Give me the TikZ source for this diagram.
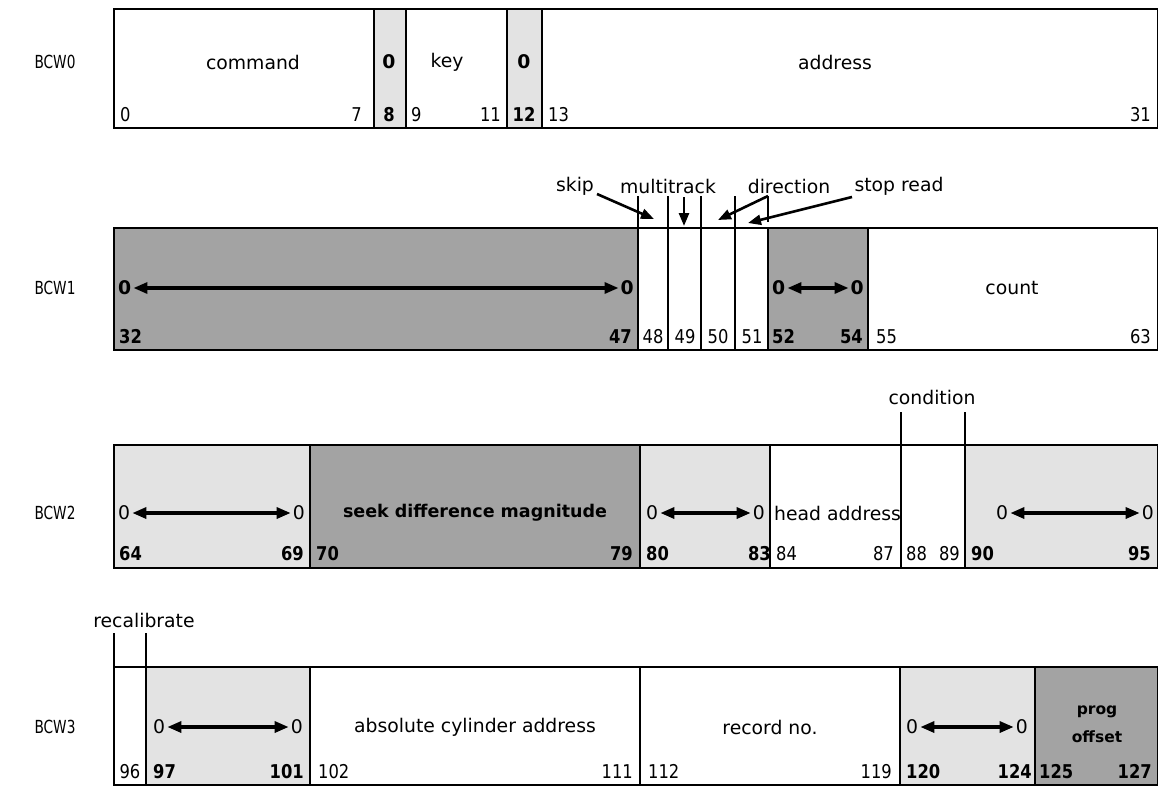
\documentclass[tikz,border=0pt]{standalone}
\usepackage{fontspec}
\setmainfont{DejaVu Sans}
\newfontfamily\bcwfont[FakeStretch=0.76]{DejaVu Sans}
\newfontfamily\numfont[FakeStretch=0.86]{DejaVu Sans}
\usetikzlibrary{arrows.meta}
\definecolor{darkcell}{gray}{0.64}
\definecolor{lightcell}{gray}{0.89}
\newcommand\bitcell[6]{%
  \pgfmathsetmacro\cellw{#3-#2}\pgfmathsetmacro\cellh{#5-#4}%
  \node[cellbox,#6,minimum width=\cellw pt,minimum height=\cellh pt,anchor=north west] (#1) at (#2,#4) {};}
\begin{document}
\begin{tikzpicture}[x=1pt,y=-1pt,
  cellbox/.style={draw=black,line width=1.8pt,inner sep=0pt,outer sep=0pt},
  dk/.style={fill=darkcell}, lt/.style={fill=lightcell}, wh/.style={fill=white},
  txt/.style={font=\fontsize{18.8}{21}\selectfont,inner sep=1pt},
  txtb/.style={font=\fontsize{18.8}{21}\selectfont\bfseries,inner sep=1pt},
  bcw/.style={font=\bcwfont\fontsize{18}{20}\selectfont,inner sep=1pt},
  num/.style={font=\numfont\fontsize{19}{21}\selectfont,inner sep=0pt},
  numb/.style={font=\numfont\fontsize{19}{21}\selectfont\bfseries,inner sep=0pt},
  nl/.style={num,anchor=base west}, nr/.style={num,anchor=base east}, nc/.style={num,anchor=base},
  nlb/.style={numb,anchor=base west}, nrb/.style={numb,anchor=base east}, ncb/.style={numb,anchor=base},
  dbl/.style={line width=3.2pt,{Triangle[length=14pt,width=11pt]}-{Triangle[length=14pt,width=11pt]},shorten <=1pt,shorten >=1pt},
  ptr/.style={line width=2.6pt,-{Triangle[length=13pt,width=10pt]}},
  tickline/.style={line width=1.8pt}]
\fill[white] (0,0) rectangle (1158,787);
\useasboundingbox (0,0) rectangle (1158,787);

% ---------- BCW0 ----------
\node[bcw] (bcw0) at (55,62) {BCW0};
\bitcell{c0}{114}{374}{9}{128}{wh}
\bitcell{c8}{374}{406}{9}{128}{lt}
\bitcell{c9}{406}{507}{9}{128}{wh}
\bitcell{c12}{507}{542}{9}{128}{lt}
\bitcell{c13}{542}{1158}{9}{128}{wh}
\node[txt] (tcmd) at (253,62) {command};
\node[txtb] (z8) at (389,62) {0};
\node[txt] (tkey) at (447,62) {key};
\node[txtb] (z12) at (524,62) {0};
\node[txt] (taddr) at (835,62) {address};
\node[nl] (n0) at (120,121) {0};
\node[nr] (n7) at (362,121) {7};
\node[ncb] (n8) at (389,121) {8};
\node[nl] (n9) at (411,121) {9};
\node[nr] (n11) at (501,121) {11};
\node[ncb] (n12) at (524,121) {12};
\node[nl] (n13) at (548,121) {13};
\node[nr] (n31) at (1151,121) {31};

% ---------- BCW1 ----------
\node[bcw] (bcw1) at (55,288) {BCW1};
\bitcell{c32}{114}{638}{228}{350}{dk}
\bitcell{c48}{638}{668}{228}{350}{wh}
\bitcell{c49}{668}{701}{228}{350}{wh}
\bitcell{c50}{701}{735}{228}{350}{wh}
\bitcell{c51}{735}{768}{228}{350}{wh}
\bitcell{c52}{768}{868}{228}{350}{dk}
\bitcell{c55}{868}{1158}{228}{350}{wh}
\node[txtb,anchor=west] (z32) at (117,288) {0};
\node[txtb,anchor=east] (z47) at (635,288) {0};
\draw[dbl] (z32.east) -- (z47.west);
\node[txtb,anchor=west] (z52) at (771,288) {0};
\node[txtb,anchor=east] (z54) at (865,288) {0};
\draw[dbl] (z52.east) -- (z54.west);
\node[txt] (tcount) at (1012,288) {count};
\node[nlb] (n32) at (119,343) {32};
\node[nrb] (n47) at (632,343) {47};
\node[nc] (n48) at (653,343) {48};
\node[nc] (n49) at (685,343) {49};
\node[nc] (n50) at (718,343) {50};
\node[nc] (n51) at (752,343) {51};
\node[nlb] (n52) at (772,343) {52};
\node[nrb] (n54) at (863,343) {54};
\node[nl] (n55) at (876,343) {55};
\node[nr] (n63) at (1151,343) {63};
% labels above BCW1
\node[txt] (lskip) at (575,186) {skip};
\node[txt] (lmulti) at (668,186) {multitrack};
\node[txt] (ldir) at (789,186) {direction};
\node[txt] (lstop) at (899,186) {stop read};
\coordinate (t48) at (638,196);
\coordinate (t49) at (668,196);
\coordinate (t50) at (701,196);
\coordinate (t51) at (735,196);
\coordinate (t52) at (768,196);
\coordinate (t52b) at (768,222);
\draw[tickline] (t48) -- (c48.north west);
\draw[tickline] (t49) -- (c49.north west);
\draw[tickline] (t50) -- (c50.north west);
\draw[tickline] (t51) -- (c51.north west);
\draw[tickline] (t52) -- (t52b);
\coordinate (skipS) at (597,194);
\coordinate (skipTip) at (654,219);
\draw[ptr] (skipS) -- (skipTip);
\coordinate (mtS) at (684,197);
\coordinate (mtTip) at (684,226);
\draw[ptr] (mtS) -- (mtTip);
\coordinate (dirTip) at (718,220);
\draw[ptr] (t52) -- (dirTip);
\coordinate (stopS) at (852,197);
\coordinate (stopTip) at (748,223);
\draw[ptr] (stopS) -- (stopTip);

% ---------- BCW2 ----------
\node[bcw] (bcw2) at (55,513) {BCW2};
\bitcell{c64}{114}{310}{445}{568}{lt}
\bitcell{c70}{310}{640}{445}{568}{dk}
\bitcell{c80}{640}{770}{445}{568}{lt}
\bitcell{c84}{770}{901}{445}{568}{wh}
\bitcell{c88}{901}{965}{445}{568}{wh}
\bitcell{c90}{965}{1158}{445}{568}{lt}
\node[txt,anchor=west] (z64) at (117,513) {0};
\node[txt,anchor=east] (z69) at (306,513) {0};
\draw[dbl] (z64.east) -- (z69.west);
\node[font=\fontsize{17.5}{20}\selectfont\bfseries,inner sep=1pt] (tseek) at (475,513) {seek difference magnitude};
\node[txt,anchor=west] (z80) at (645,513) {0};
\node[txt,anchor=east] (z83) at (766,513) {0};
\draw[dbl] (z80.east) -- (z83.west);
\node[txt,anchor=west] (thead) at (773,513) {head address};
\node[txt,anchor=west] (z90) at (995,513) {0};
\node[txt,anchor=east] (z95) at (1155,513) {0};
\draw[dbl] (z90.east) -- (z95.west);
\node[nlb] (n64) at (119,560) {64};
\node[nrb] (n69) at (304,560) {69};
\node[nlb] (n70) at (316,560) {70};
\node[nrb] (n79) at (633,560) {79};
\node[nlb] (n80) at (646,560) {80};
\node[nrb] (n83) at (771,560) {83};
\node[nl] (n84) at (776,560) {84};
\node[nr] (n87) at (894,560) {87};
\node[nl] (n88) at (906,560) {88};
\node[nr] (n89) at (960,560) {89};
\node[nlb] (n90) at (971,560) {90};
\node[nrb] (n95) at (1151,560) {95};
\node[txt] (lcond) at (932,397) {condition};
\coordinate (tc1) at (901,412);
\coordinate (tc2) at (965,412);
\draw[tickline] (tc1) -- (c88.north west);
\draw[tickline] (tc2) -- (c88.north east);

% ---------- BCW3 ----------
\node[bcw] (bcw3) at (55,727) {BCW3};
\bitcell{c96}{114}{146}{667}{785}{wh}
\bitcell{c97}{146}{310}{667}{785}{lt}
\bitcell{c102}{310}{640}{667}{785}{wh}
\bitcell{c112}{640}{900}{667}{785}{wh}
\bitcell{c120}{900}{1035}{667}{785}{lt}
\bitcell{c125}{1035}{1158}{667}{785}{dk}
\node[txt,anchor=west] (z97) at (152,727) {0};
\node[txt,anchor=east] (z101) at (304,727) {0};
\draw[dbl] (z97.east) -- (z101.west);
\node[txt] (tabs) at (475,727) {absolute cylinder address};
\node[txt] (trec) at (770,727) {record no.};
\node[txt,anchor=west] (z120) at (905,727) {0};
\node[txt,anchor=east] (z124) at (1029,727) {0};
\draw[dbl] (z120.east) -- (z124.west);
\node[font=\fontsize{15.5}{17}\selectfont\bfseries,inner sep=1pt] (tprog) at (1097,712) {prog};
\node[font=\fontsize{15.5}{17}\selectfont\bfseries,inner sep=1pt] (toff) at (1097,737) {offset};
\node[nc] (n96) at (130,778) {96};
\node[nlb] (n97) at (153,778) {97};
\node[nrb] (n101) at (304,778) {101};
\node[nl] (n102) at (318,778) {102};
\node[nr] (n111) at (633,778) {111};
\node[nl] (n112) at (648,778) {112};
\node[nr] (n119) at (892,778) {119};
\node[nlb] (n120) at (906,778) {120};
\node[nrb] (n124) at (1032,778) {124};
\node[nlb] (n125) at (1039,778) {125};
\node[nrb] (n127) at (1152,778) {127};
\node[txt] (lrecal) at (144,620) {recalibrate};
\coordinate (tr1) at (114,633);
\coordinate (tr2) at (146,633);
\draw[tickline] (tr1) -- (c96.north west);
\draw[tickline] (tr2) -- (c96.north east);
\end{tikzpicture}
\end{document}
